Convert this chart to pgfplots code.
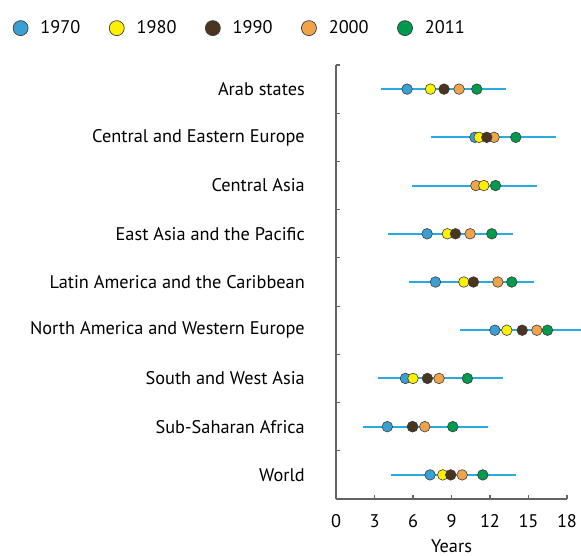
\documentclass[border=0pt]{standalone}
\usepackage{pgfplots}
\pgfplotsset{compat=1.18}
\usepackage{pgfplotstable}
\usepackage{fontspec}
\setmainfont{PT Sans}

\definecolor{c1970}{RGB}{58,160,211}
\definecolor{c1980}{RGB}{255,240,0}
\definecolor{c1990}{RGB}{75,52,32}
\definecolor{c2000}{RGB}{239,164,74}
\definecolor{c2011}{RGB}{0,154,78}
\definecolor{rangeblue}{RGB}{41,171,226}
\definecolor{axisgray}{RGB}{100,100,100}
\definecolor{edge}{RGB}{60,60,60}

% mean years of schooling, one row per region (y = row index, top to bottom)
\pgfplotstableread{
cat y1970 y1980 y1990 y2000 y2011
0   5.54  7.36  8.42  9.59  10.97
1   10.82 11.15 11.75 12.32 14.01
2   nan   11.52 nan   10.90 12.43
3   7.10  8.68  9.31  10.45 12.14
4   7.75  9.96  10.71 12.61 13.70
5   12.38 13.31 14.51 15.65 16.48
6   5.41  6.00  7.12  8.03  10.24
7   4.00  5.95  5.98  6.92  9.10
8   7.33  8.32  8.94  9.83  11.44
}\schooling

% range of each region (low end, high end), nan rows break the line
\pgfplotstableread{
x     y
3.49  0
13.27 0
nan   nan
7.38  1
17.16 1
nan   nan
5.90  2
15.68 2
nan   nan
4.03  3
13.80 3
nan   nan
5.67  4
15.42 4
nan   nan
9.70  5
19.48 5
nan   nan
3.28  6
13.05 6
nan   nan
2.08  7
11.86 7
nan   nan
4.29  8
14.01 8
}\ranges

\begin{document}
\begin{tikzpicture}
\path[use as bounding box] (-336pt,-57pt) rectangle (245pt,499pt);
\begin{axis}[
    at={(0,0)}, anchor=south west,
    scale only axis, width=231pt, height=434pt,
    font=\fontsize{18.3}{21}\selectfont,
    /pgf/number format/assume math mode=true,
    xmin=0, xmax=18, ymin=-0.5, ymax=8.5,
    y dir=reverse,
    clip=false,
    axis x line*=bottom, axis y line*=left,
    axis line style={axisgray, line width=1.4pt},
    every tick/.style={axisgray, line width=1.2pt},
    tick align=inside,
    major tick length=4pt,
    xtick={0,3,...,18},
    xticklabel style={inner sep=0pt, yshift=-15pt},
    ytick={-0.5,0.5,...,8.5},
    yticklabels={},
    extra y ticks={0,...,8},
    extra y tick labels={Arab states, Central and Eastern Europe, Central Asia,
        East Asia and the Pacific, Latin America and the Caribbean,
        North America and Western Europe, South and West Asia,
        Sub-Saharan Africa, World},
    extra y tick style={major tick length=0pt},
    yticklabel style={inner sep=0pt, xshift=-31pt},
    xlabel={Years},
    xlabel style={at={(axis description cs:0.5,0)}, anchor=north, inner sep=0pt, yshift=-40pt},
    legend columns=5,
    legend image code/.code={\filldraw[#1, line width=0.7pt] (8pt,0pt) circle (7.5pt);},
    legend style={draw=none, fill=none, inner sep=0pt,
        at={(-1.40,1.085)}, anchor=west,
        font=\fontsize{18.3}{21}\selectfont,
        nodes={inner sep=0pt},
        /tikz/every odd column/.append style={column sep=12pt},
        /tikz/every even column/.append style={column sep=28.5pt}},
]
\addlegendimage{fill=c1970, draw=edge}\addlegendentry{1970}
\addlegendimage{fill=c1980, draw=edge}\addlegendentry{1980}
\addlegendimage{fill=c1990, draw=edge}\addlegendentry{1990}
\addlegendimage{fill=c2000, draw=edge}\addlegendentry{2000}
\addlegendimage{fill=c2011, draw=edge}\addlegendentry{2011}

% drawing order as in the original: 2000 and 2011 lie beneath the others
\addplot[forget plot, only marks, mark=*, mark size=5.3pt,
    mark options={draw=edge, line width=0.6pt, fill=c2000}] table[x=y2000, y=cat] {\schooling};
\addplot[forget plot, only marks, mark=*, mark size=5.3pt,
    mark options={draw=edge, line width=0.6pt, fill=c2011}] table[x=y2011, y=cat] {\schooling};
\addplot[forget plot, only marks, mark=*, mark size=5.3pt,
    mark options={draw=edge, line width=0.6pt, fill=c1970}] table[x=y1970, y=cat] {\schooling};
\addplot[forget plot, only marks, mark=*, mark size=5.3pt,
    mark options={draw=edge, line width=0.6pt, fill=c1980}] table[x=y1980, y=cat] {\schooling};
\addplot[forget plot, only marks, mark=*, mark size=5.3pt,
    mark options={draw=edge, line width=0.6pt, fill=c1990}] table[x=y1990, y=cat] {\schooling};

% range lines sit on top of the dots
\addplot[forget plot, no marks, rangeblue, line width=2pt, unbounded coords=jump]
    table[x=x, y=y] {\ranges};
\end{axis}
\end{tikzpicture}
\end{document}
